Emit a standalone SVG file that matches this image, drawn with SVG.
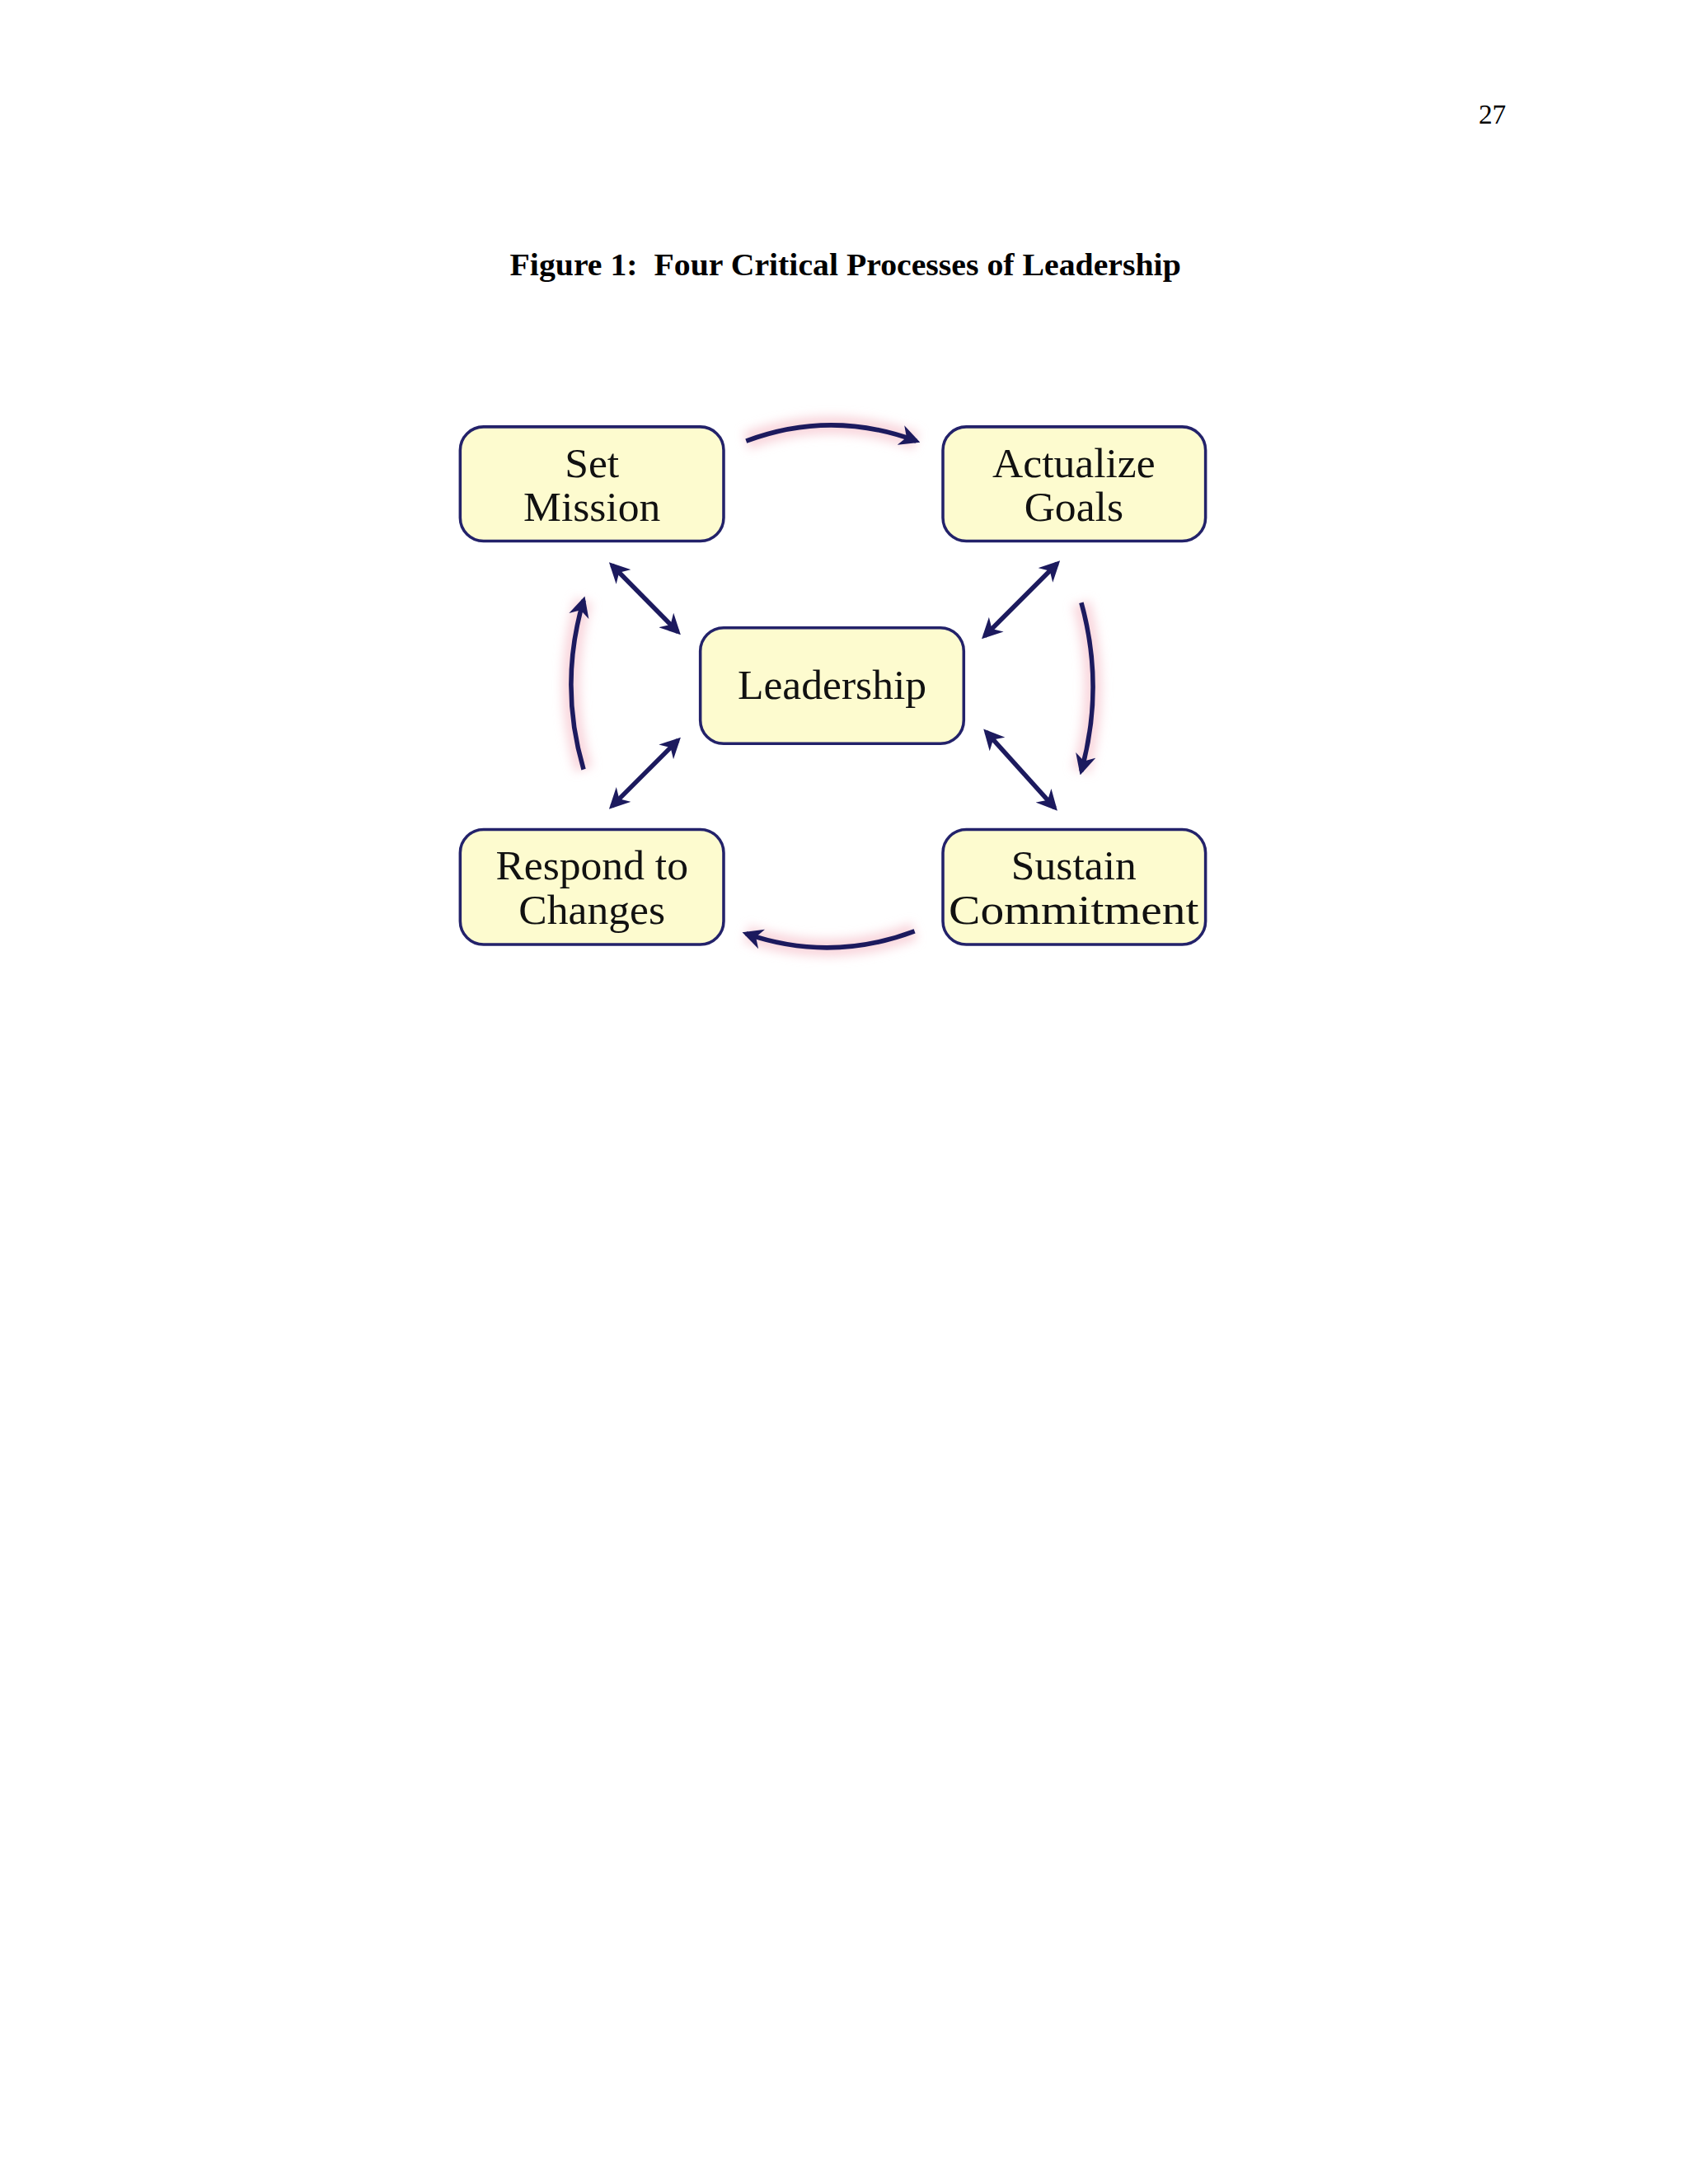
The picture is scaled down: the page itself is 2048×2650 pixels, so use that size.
<svg xmlns="http://www.w3.org/2000/svg" width="2048" height="2650" viewBox="0 0 2048 2650">
<style>
.box{fill:#fdfbcf;stroke:#23226a;stroke-width:3.5}
.t{font-family:"Liberation Serif",serif;font-size:51px;fill:#111;text-anchor:middle}
.c{fill:none;stroke:#1c1a5e;stroke-width:5.5}
.g{fill:none;stroke:#f6c8d0;stroke-width:22;opacity:.7}
</style>
<defs>
<marker id="ah" viewBox="0 0 10 10" refX="8" refY="5" markerWidth="4.5" markerHeight="4.5" orient="auto-start-reverse"><path d="M0,0 L10,5 L0,10 L3,5 Z" fill="#1c1a5e"/></marker>
<filter id="bl"><feGaussianBlur stdDeviation="6"/></filter>
</defs>
<rect width="2048" height="2650" fill="#fff"/>
<g transform="scale(1.0115)">
<text x="1790" y="148" font-family="Liberation Serif,serif" font-size="33" text-anchor="middle">27</text>
<text x="1014" y="330" font-family="Liberation Serif,serif" font-size="38" font-weight="bold" text-anchor="middle" textLength="805" lengthAdjust="spacingAndGlyphs">Figure 1:&#160; Four Critical Processes of Leadership</text>
<g id="glow" filter="url(#bl)">
<path class="g" d="M895,529 Q997,491 1099,529"/>
<path class="g" d="M1097,1117 Q996,1155 895,1120"/>
<path class="g" d="M700,923 Q670,821 700,720"/>
<path class="g" d="M1297,723 Q1325,824 1297,925"/>
</g>
<g id="connectors">
<path class="c" d="M895,529 Q997,491 1099,529" marker-end="url(#ah)"/>
<path class="c" d="M1097,1117 Q996,1155 895,1120" marker-end="url(#ah)"/>
<path class="c" d="M700,923 Q670,821 700,720" marker-end="url(#ah)"/>
<path class="c" d="M1297,723 Q1325,824 1297,925" marker-end="url(#ah)"/>
<path class="c" d="M734,678 L813,758" marker-start="url(#ah)" marker-end="url(#ah)"/>
<path class="c" d="M1268,676 L1181,763" marker-start="url(#ah)" marker-end="url(#ah)"/>
<path class="c" d="M813,888 L734,967" marker-start="url(#ah)" marker-end="url(#ah)"/>
<path class="c" d="M1183,878 L1265,969" marker-start="url(#ah)" marker-end="url(#ah)"/>
</g>
<g id="set-mission"><rect class="box" x="552" y="512" width="316" height="137" rx="28"/><text class="t" x="710" y="572">Set</text><text class="t" x="710" y="625">Mission</text></g>
<g id="actualize-goals"><rect class="box" x="1131" y="512" width="315" height="137" rx="28"/><text class="t" x="1288" y="572">Actualize</text><text class="t" x="1288" y="625">Goals</text></g>
<g id="leadership"><rect class="box" x="840" y="753" width="316" height="139" rx="28"/><text class="t" x="998" y="838" font-size="55">Leadership</text></g>
<g id="respond-to-changes"><rect class="box" x="552" y="995" width="316" height="138" rx="28"/><text class="t" x="710" y="1055">Respond to</text><text class="t" x="710" y="1108">Changes</text></g>
<g id="sustain-commitment"><rect class="box" x="1131" y="995" width="315" height="138" rx="28"/><text class="t" x="1288" y="1055">Sustain</text><text class="t" x="1288" y="1108" textLength="300" lengthAdjust="spacingAndGlyphs">Commitment</text></g>
</g>
</svg>
